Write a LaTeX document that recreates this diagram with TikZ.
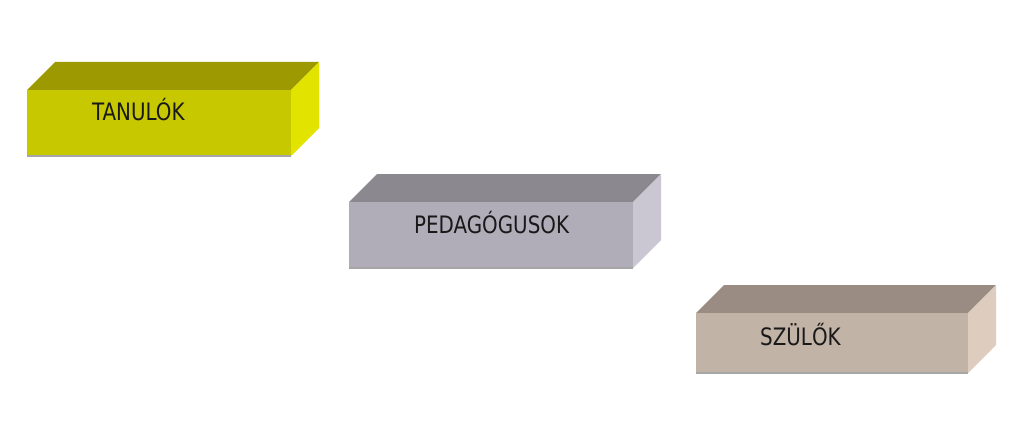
\documentclass[tikz,border=0pt]{standalone}
\usepackage{fontspec}
\setmainfont[FakeStretch=0.92]{DejaVu Sans Condensed}
\definecolor{yTop}{HTML}{9C9A00}
\definecolor{yFront}{HTML}{C8C800}
\definecolor{ySide}{HTML}{E3E300}
\definecolor{gTop}{HTML}{8B8890}
\definecolor{gFront}{HTML}{B0ADB8}
\definecolor{gSide}{HTML}{CAC6D2}
\definecolor{bTop}{HTML}{9A8C83}
\definecolor{bFront}{HTML}{C2B3A7}
\definecolor{bSide}{HTML}{DECDBF}
\tikzset{
  boxlabel/.style={font=\fontsize{24}{26}\selectfont, text=black!90, inner sep=0pt, anchor=base west}
}
% #1 left x, #2 top y, #3 width, #4 height, #5 depth, #6 top col, #7 front col, #8 side col
\newcommand{\drawbrick}[8]{%
  \fill[#6] (#1,#2) -- ++(#5,-#5) -- ++(#3,0) -- ++(-#5,#5) -- cycle;
  \fill[#8] (#1+#3,#2) -- ++(#5,-#5) -- ++(0,#4) -- ++(-#5,#5) -- cycle;
  \fill[#7] (#1,#2) rectangle ++(#3,#4);
  \draw[black!35, line width=1.2pt] (#1,#2+#4) -- ++(#3,0);
}
\begin{document}
\begin{tikzpicture}[x=1pt,y=-1pt]
\useasboundingbox (0,0) rectangle (1024,433);
\drawbrick{27}{90}{264}{66}{28}{yTop}{yFront}{ySide}
\drawbrick{349}{202}{284}{66}{28}{gTop}{gFront}{gSide}
\drawbrick{696}{313}{272}{60}{28}{bTop}{bFront}{bSide}
\node[boxlabel] (t1) at (92,121) {TANULÓK};
\node[boxlabel] (t2) at (414,233) {PEDAGÓGUSOK};
\node[boxlabel] (t3) at (760,345) {SZÜLŐK};
\end{tikzpicture}
\end{document}
